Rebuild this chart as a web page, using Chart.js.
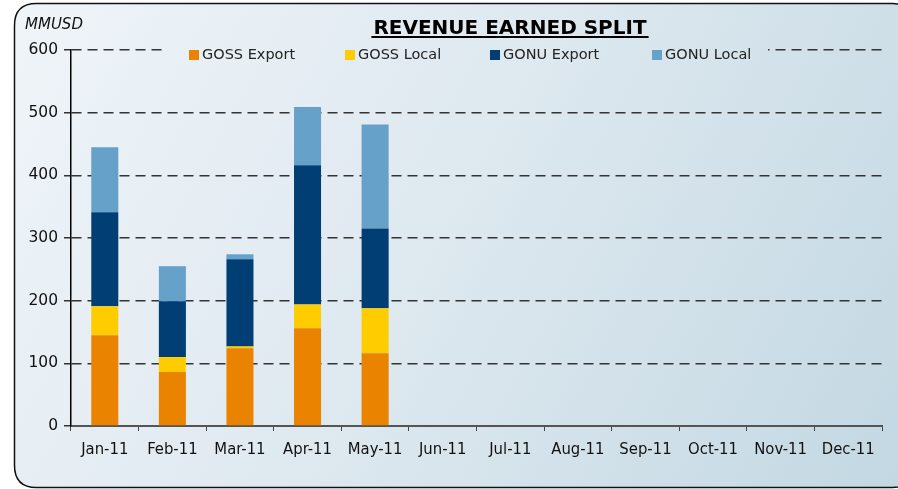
<!DOCTYPE html>
<html><head><meta charset="utf-8">
<script src="https://cdn.jsdelivr.net/npm/chart.js@4/dist/chart.umd.min.js"></script>
<style>html,body{margin:0;padding:0;background:#fff;}#wrap{width:898px;height:489px;position:relative;}</style>
</head><body><div id="wrap"><canvas id="c" width="898" height="489"></canvas></div>
<script>
const categories = ["Jan-11","Feb-11","Mar-11","Apr-11","May-11","Jun-11","Jul-11","Aug-11","Sep-11","Oct-11","Nov-11","Dec-11"];
const gossExport = [145, 86, 124, 156, 116, null, null, null, null, null, null, null];
const gossLocal  = [46, 24, 3, 38, 72, null, null, null, null, null, null, null];
const gonuExport = [150, 89, 139, 222, 127, null, null, null, null, null, null, null];
const gonuLocal  = [104, 56, 8, 93, 166, null, null, null, null, null, null, null];
const yTicks = [0, 100, 200, 300, 400, 500, 600];
const seriesNames = ["GOSS Export", "GOSS Local", "GONU Export", "GONU Local"];
const seriesColors = ["#E98300", "#FFCC00", "#003E74", "#66A1C9"];

function bgGradient(ctx, w, h){
  const g = ctx.createLinearGradient(0, 0, w, h);
  g.addColorStop(0, "#f0f5f9");
  g.addColorStop(0.5, "#dde8ef");
  g.addColorStop(1, "#c3d8e3");
  return g;
}
function roundPath(ctx, x, y, w, h, r){
  ctx.beginPath();
  ctx.moveTo(x + r, y);
  ctx.lineTo(x + w - r, y);
  ctx.quadraticCurveTo(x + w, y, x + w, y + r);
  ctx.lineTo(x + w, y + h - r);
  ctx.quadraticCurveTo(x + w, y + h, x + w - r, y + h);
  ctx.lineTo(x + r, y + h);
  ctx.quadraticCurveTo(x, y + h, x, y + h - r);
  ctx.lineTo(x, y + r);
  ctx.quadraticCurveTo(x, y, x + r, y);
  ctx.closePath();
}
const frame = {x: 14.5, y: 3.5, w: 900, h: 484, r: 22};

const bgPlugin = {
  id: "bg",
  beforeDraw(chart){
    const ctx = chart.ctx;
    ctx.save();
    ctx.fillStyle = "#fff";
    ctx.fillRect(0, 0, chart.width, chart.height);
    roundPath(ctx, frame.x, frame.y, frame.w, frame.h, frame.r);
    ctx.fillStyle = bgGradient(ctx, chart.width, chart.height);
    ctx.fill();
    ctx.restore();
  },
  afterDraw(chart){
    const ctx = chart.ctx;
    ctx.save();
    ctx.fillStyle = bgGradient(ctx, chart.width, chart.height);
    ctx.fillRect(164, 44, 604, 22);
    const xs = [189, 345, 490, 652];
    ctx.font = "14.5px 'DejaVu Sans'";
    ctx.textBaseline = "middle";
    ctx.textAlign = "left";
    seriesNames.forEach((n, i) => {
      ctx.fillStyle = seriesColors[i];
      ctx.fillRect(xs[i], 50, 10, 10);
      ctx.fillStyle = "#222";
      ctx.fillText(n, xs[i] + 13, 55);
    });
    ctx.font = "bold 20px 'DejaVu Sans'";
    ctx.textAlign = "center";
    ctx.textBaseline = "alphabetic";
    ctx.fillStyle = "#000";
    const t = "REVENUE EARNED SPLIT";
    ctx.fillText(t, 510, 34);
    const tw = ctx.measureText(t).width;
    ctx.fillRect(510 - tw/2 - 2, 36, tw + 4, 2);
    ctx.font = "italic 15px 'DejaVu Sans'";
    ctx.textAlign = "left";
    ctx.fillStyle = "#111";
    ctx.fillText("MMUSD", 25, 29);
    roundPath(ctx, frame.x, frame.y, frame.w, frame.h, frame.r);
    ctx.lineWidth = 1.5;
    ctx.strokeStyle = "#111";
    ctx.stroke();
    ctx.restore();
  }
};

const ds = (i, data) => ({label: seriesNames[i], data, backgroundColor: seriesColors[i], borderWidth: 0, categoryPercentage: 1, barPercentage: 0.4});

new Chart(document.getElementById("c"), {
  type: "bar",
  data: {labels: categories, datasets: [ds(0, gossExport), ds(1, gossLocal), ds(2, gonuExport), ds(3, gonuLocal)]},
  options: {
    responsive: false, animation: false,
    layout: {padding: {left: 0, top: 50, right: 16, bottom: 0}},
    plugins: {legend: {display: false}, title: {display: false}, tooltip: {enabled: false}},
    scales: {
      x: {
        stacked: true,
        afterFit(s){ s.height = 63; },
        grid: {offset: true, drawOnChartArea: false, drawTicks: true, tickLength: 5, color: "#444"},
        border: {color: "#555", width: 2},
        ticks: {color: "#111", font: {family: "'DejaVu Sans Condensed', 'DejaVu Sans'", size: 16.5}, padding: 9, maxRotation: 0, autoSkip: false}
      },
      y: {
        stacked: true, min: 0, max: 600,
        afterFit(s){ s.width = 71; },
        afterBuildTicks(s){ s.ticks = yTicks.map(v => ({value: v})); },
        grid: {color: "#333", lineWidth: 1.5, tickLength: 7, drawTicks: true, tickColor: "#333"},
        border: {color: "#000", width: 1.5, dash: [10, 6]},
        ticks: {color: "#111", font: {family: "'DejaVu Sans'", size: 15.5}, padding: 6}
      }
    }
  },
  plugins: [bgPlugin]
});
</script>
</body></html>
